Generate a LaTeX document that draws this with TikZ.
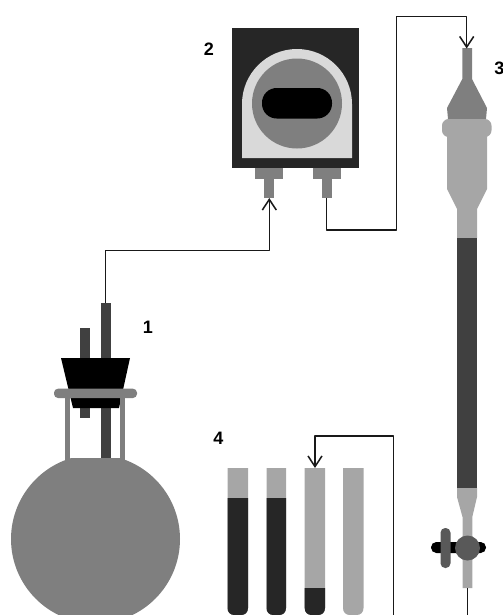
\documentclass[tikz,border=0pt]{standalone}
\usepackage{fontspec}
\setmainfont{Liberation Sans}
\usetikzlibrary{arrows.meta}
\definecolor{gA}{HTML}{7F7F7F}
\definecolor{gB}{HTML}{A6A6A6}
\definecolor{gC}{HTML}{404040}
\definecolor{gD}{HTML}{262626}
\definecolor{gE}{HTML}{D9D9D9}
\definecolor{gF}{HTML}{595959}
\tikzset{
  line/.style={draw=black!90,line width=1.15pt,line join=round},
  flow/.style={line,-{Straight Barb[length=8pt,width=10.5pt,line width=1.15pt]}},
  lab/.style={font=\fontsize{13.5}{15}\bfseries\selectfont,inner sep=0pt,text=black}
}
\newcommand{\testtube}[4]{% colour, left, right, top
  \fill[#1] (#2,#4) -- (#2,608) .. controls (#2,612.5) and (#2+3,615) .. (#2+7,615) -- (#3-7,615) .. controls (#3-3,615) and (#3,612.5) .. (#3,608) -- (#3,#4) -- cycle;}
\begin{document}
\begin{tikzpicture}[x=0.75pt,y=-0.75pt]
\useasboundingbox (0,0) rectangle (503,615);
\clip (0,0) rectangle (503,615);
% flask
\fill[gA] (95.5,539) circle (84.5);
\fill[white] (70,395) rectangle (120,458);
\fill[gC] (100.5,303) rectangle (110.5,458);
\fill[gC] (80,328) rectangle (90,418);
\fill[black] (61,358) -- (130,358) -- (119,408) -- (73,408) -- cycle;
\fill[gA] (65,395) rectangle (70,461);
\fill[gA] (120,395) rectangle (125,461);
\fill[gA,rounded corners=3pt] (54,388.7) rectangle (137,398);
% pump
\fill[gD] (232,28) rectangle (359,168);
\fill[gE] (242,158) -- (242,104) arc[start angle=180,end angle=360,x radius=55,y radius=55] -- (352,158) -- cycle;
\fill[gA] (297,103.5) circle (45);
\fill[black,rounded corners=11pt] (262,88) rectangle (332,118.5);
\fill[gA] (255,168) rectangle (283,178.5);
\fill[gA] (264,178) rectangle (274,198);
\fill[gA] (312.5,168) rectangle (341,178.5);
\fill[gA] (321.5,178) rectangle (331.5,198);
% column
\fill[gA] (462.3,48) -- (472,48) -- (472,79) -- (487,108) -- (486,119) -- (448,119) -- (447,108) -- (462.3,79) -- cycle;
\fill[gB] (447,125) -- (487,125) -- (487,189) -- (477,209) -- (477,238) -- (457,238) -- (457,209) -- (447,189) -- cycle;
\fill[gB,rounded corners=5pt] (442,119) rectangle (491.5,137);
\fill[gC] (457,238) rectangle (477,488);
\fill[gB] (457,488) -- (477,488) -- (477,497) -- (472.3,517) -- (472.3,588) -- (462.5,588) -- (462.5,517) -- (457,497) -- cycle;
\fill[black,rounded corners=4pt] (431,542) rectangle (486,553);
\fill[gF,rounded corners=3.5pt] (440.5,528) rectangle (450.5,568);
\fill[gF] (467.5,548) circle (12.5);
% test tubes
\testtube{gB}{227.5}{248}{468}
\testtube{gD}{227.5}{248}{498}
\testtube{gB}{266.5}{286}{468}
\testtube{gD}{266.5}{286}{498}
\testtube{gB}{304.7}{325}{468}
\testtube{gD}{304.7}{325}{588}
\testtube{gB}{343}{363.5}{468}
% connector ends
\coordinate (flaskout) at (105.5,303);
\coordinate (pumpin) at (269.3,198);
\coordinate (pumpout) at (326.5,198);
\coordinate (colin) at (466.7,48.5);
\coordinate (colout) at (467.5,588);
\coordinate (colend) at (467.5,615);
\coordinate (tubein) at (315,468);
\coordinate (bendA) at (105.5,250.7);
\coordinate (bendB) at (326.5,230);
\coordinate (bendC) at (396.7,16.7);
\coordinate (bendD) at (393.5,615);
\coordinate (bendE) at (393.5,436);
\draw[flow] (flaskout) -- (bendA) -| (pumpin);
\draw[flow] (pumpout) -- (bendB) -| (bendC) -| (colin);
\draw[line] (colout) -- (colend);
\draw[flow] (bendD) -- (bendE) -| (tubein);
% labels
\node[lab] (n1) at (148,327) {1};
\node[lab] (n2) at (209,49) {2};
\node[lab] (n3) at (499.5,68) {3};
\node[lab] (n4) at (218.5,438) {4};
\end{tikzpicture}
\end{document}
